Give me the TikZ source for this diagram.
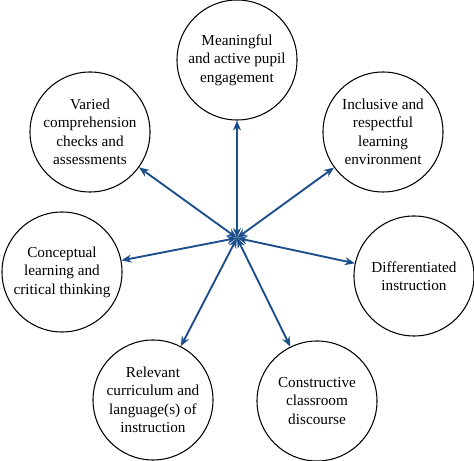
\documentclass[tikz,border=0pt]{standalone}
\usepackage{fontspec}
\setmainfont{Liberation Serif}
\usetikzlibrary{positioning,arrows.meta}
\definecolor{spoke}{RGB}{28,78,140}
\begin{document}
\begin{tikzpicture}[x=0.03cm,y=-0.03cm,
  topic/.style={circle,draw,line width=0.9pt,minimum size=3.6cm,inner sep=0pt,
    align=center,font=\fontsize{13}{15.8}\selectfont},
  spokearrow/.style={{Stealth[length=3mm,width=2.4mm]}-{Stealth[length=3mm,width=2.4mm]},
    line width=1.6pt,draw=spoke,fill=spoke}]
  \useasboundingbox (0,0) rectangle (474,461);
  \coordinate (hub) at (237,238);
  \node[topic] (meaning) at (237,60) {Meaningful\\and active pupil\\engagement};
  \node[topic] (inclusive) at (383,132) {Inclusive and\\respectful\\learning\\environment};
  \node[topic] (differ) at (414,276) {Differentiated\\instruction};
  \node[topic] (discourse) at (317,401) {Constructive\\classroom\\discourse};
  \node[topic] (curric) at (153,400) {Relevant\\curriculum and\\language(s) of\\instruction};
  \node[topic] (concept) at (62,272) {Conceptual\\learning and\\critical thinking};
  \node[topic] (varied) at (90,132) {Varied\\comprehension\\checks and\\assessments};
  \foreach \t in {meaning,inclusive,differ,discourse,curric,concept,varied}
    \draw[spokearrow] (hub) -- (\t);
\end{tikzpicture}
\end{document}
